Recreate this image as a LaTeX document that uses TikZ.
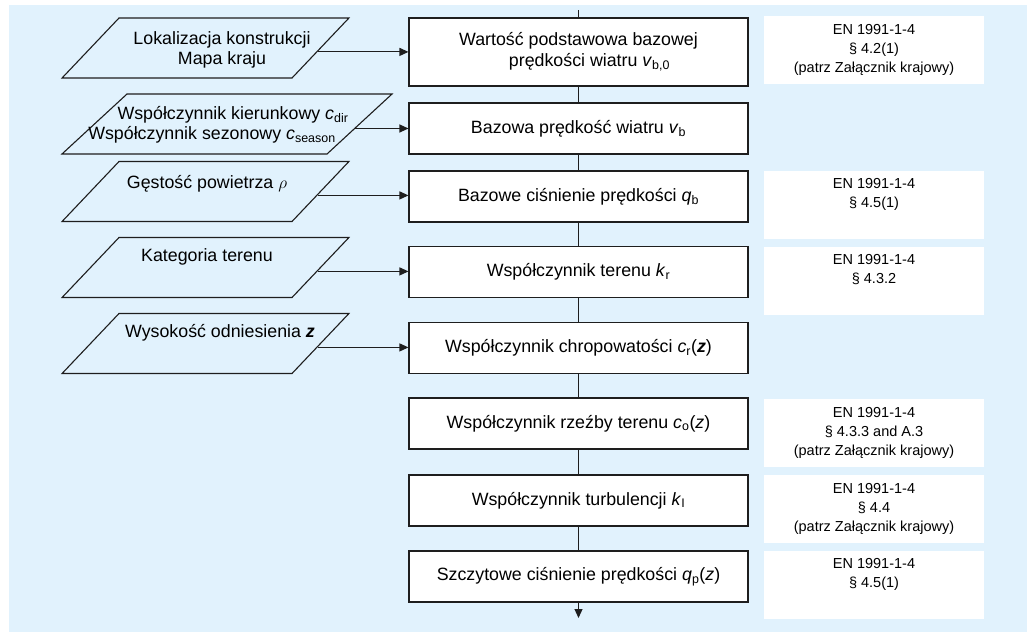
\documentclass[tikz,border=0pt]{standalone}
\usepackage{fontspec}
\setmainfont{Liberation Sans}
\usetikzlibrary{positioning}
\usetikzlibrary{shapes.geometric}
\usetikzlibrary{arrows.meta}

\definecolor{tlo}{RGB}{225,242,253}
\definecolor{kreska}{RGB}{30,30,30}

\tikzset{
  krok/.style={draw=kreska, line width=1.1pt, fill=white, minimum width=339pt, minimum height=51pt, align=center, inner sep=0pt, font=\fontsize{17.8}{20.5}\selectfont},
  dane/.style={draw=kreska, line width=1.1pt, trapezium, trapezium left angle=46.5, trapezium right angle=133.5, inner xsep=86.5pt, inner ysep=30pt, minimum width=0pt, minimum height=0pt},
  opis/.style={align=center, inner sep=0pt, font=\fontsize{17.8}{20.5}\selectfont},
  norma/.style={fill=white, minimum width=220pt, minimum height=68pt, align=center, inner sep=0pt, font=\fontsize{14.5}{19}\selectfont},
  strzalka/.style={draw=kreska, line width=1.1pt, -{Triangle[length=9pt,width=8pt]}},
  linia/.style={draw=kreska, line width=1.1pt}
}

\begin{document}
\begin{tikzpicture}[x=1pt,y=-1pt]
\useasboundingbox (0,0) rectangle (1027,632);
\fill[tlo] (9,5) rectangle (1027,632);

% dane wejsciowe
\node[dane] (p1) at (205.5,48) {};
\node[dane, trapezium left angle=42.7, trapezium right angle=137.3, inner xsep=100pt] (p2) at (227,124) {};
\node[dane] (p3) at (205.5,191.5) {};
\node[dane] (p4) at (205.5,267.5) {};
\node[dane] (p5) at (205.5,343.5) {};
\node[opis] (t1) at (222,50) {Lokalizacja konstrukcji\\Mapa kraju};
\node[opis] (t2) at (212,125) {\hspace*{42pt}Współczynnik kierunkowy \textit{c}\textsubscript{dir}\\Współczynnik sezonowy \textit{c}\textsubscript{season}};
\node[opis] (t3) at (207,184) {Gęstość powietrza $\rho$};
\node[opis] (t4) at (207,257) {Kategoria terenu};
\node[opis] (t5) at (220,333) {Wysokość odniesienia \textbf{\textit{z}}};

% kroki obliczen
\node[krok, minimum height=68pt] (b1) at (578.5,52) {Wartość podstawowa bazowej\\\hspace*{22pt}prędkości wiatru \textit{v}\textsubscript{b,0}};
\node[krok] (b2) at (578.5,128.5) {Bazowa prędkość wiatru \textit{v}\textsubscript{b}};
\node[krok] (b3) at (578.5,196.5) {Bazowe ciśnienie prędkości \textit{q}\textsubscript{b}};
\node[krok] (b4) at (578.5,272) {Współczynnik terenu \textit{k}\textsubscript{r}};
\node[krok] (b5) at (578.5,348) {Współczynnik chropowatości \textit{c}\textsubscript{r}(\textbf{\textit{z}})};
\node[krok] (b6) at (578.5,423.5) {Współczynnik rzeźby terenu \textit{c}\textsubscript{o}(\textit{z})};
\node[krok] (b7) at (578.5,500.5) {Współczynnik turbulencji \textit{k}\textsubscript{I}};
\node[krok] (b8) at (578.5,576.5) {Szczytowe ciśnienie prędkości \textit{q}\textsubscript{p}(\textit{z})};

% odnosniki do normy
\node[norma] (n1) at (874,50) {EN 1991-1-4\\\S\ 4.2(1)\\(patrz Załącznik krajowy)};
\node[norma] (n3) at (874,205) {EN 1991-1-4\\\S\ 4.5(1)\\\strut};
\node[norma] (n4) at (874,281) {EN 1991-1-4\\\S\ 4.3.2\\\strut};
\node[norma] (n6) at (874,433) {EN 1991-1-4\\\S\ 4.3.3 and A.3\\(patrz Załącznik krajowy)};
\node[norma] (n7) at (874,509) {EN 1991-1-4\\\S\ 4.4\\(patrz Załącznik krajowy)};
\node[norma] (n8) at (874,585) {EN 1991-1-4\\\S\ 4.5(1)\\\strut};

\coordinate (wejscie) at (578.5,10);
\coordinate (wyjscie) at (578.5,618);

\draw[linia] (wejscie) -- (b1.north);
\draw[linia] (b1.south) -- (b2.north);
\draw[linia] (b2.south) -- (b3.north);
\draw[linia] (b3.south) -- (b4.north);
\draw[linia] (b4.south) -- (b5.north);
\draw[linia] (b5.south) -- (b6.north);
\draw[linia] (b6.south) -- (b7.north);
\draw[linia] (b7.south) -- (b8.north);
\draw[strzalka] (b8.south) -- (wyjscie);

\draw[strzalka] (p1.-2) -- (p1.-2 -| b1.west);
\draw[strzalka] (p2.-2) -- (p2.-2 -| b2.west);
\draw[strzalka] (p3.-2) -- (p3.-2 -| b3.west);
\draw[strzalka] (p4.-2) -- (p4.-2 -| b4.west);
\draw[strzalka] (p5.-2) -- (p5.-2 -| b5.west);
\end{tikzpicture}
\end{document}
